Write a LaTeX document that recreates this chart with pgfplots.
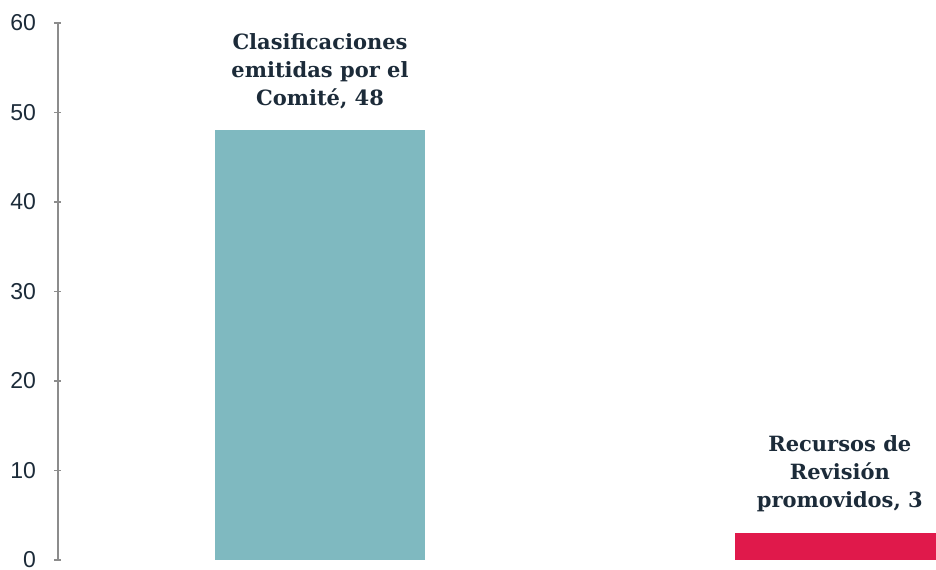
\documentclass[border=0pt]{standalone}
\usepackage{fontspec}
\setmainfont{Liberation Sans}
\newfontfamily\labfont{DejaVu Serif}
\usepackage{pgfplots}
\pgfplotsset{compat=1.18}
\definecolor{txt}{HTML}{1C2B39}
\definecolor{barA}{HTML}{7FB9C0}
\definecolor{barB}{HTML}{E0194B}
\definecolor{axgray}{HTML}{8C8C8C}
\begin{document}
\begin{tikzpicture}
\begin{axis}[name=ax,
  scale only axis, width=878pt, height=537pt,
  xmin=-0.504, xmax=1.185, ymin=0, ymax=60,
  axis y line=left, axis x line=none,
  y axis line style={axgray, line width=1.3pt, -},
  ytick={0,10,...,60},
  tick style={axgray, line width=1.3pt},
  major tick length=7pt,
  y tick label style={font=\fontsize{23}{27}\selectfont, text=txt, xshift=-15pt},
  /pgf/number format/assume math mode=true,
  ybar, bar width=210pt, bar shift=0pt,
  nodes near coords,
  point meta=explicit symbolic,
  every node near coord/.style={align=center, font=\labfont\bfseries\fontsize{21}{28}\selectfont, text=txt, anchor=south, yshift=18pt},
  clip=true,
]
\addplot[fill=barA, draw=none] coordinates {(0,48) [Clasificaciones\\emitidas por el\\Comité, 48]};
\addplot[fill=barB, draw=none] coordinates {(1,3) [Recursos de\\Revisión\\promovidos, 3]};
\end{axis}
\pgfresetboundingbox
\path[use as bounding box] ([xshift=-58pt,yshift=-10pt]ax.south west) rectangle ([yshift=23pt]ax.north east);
\end{tikzpicture}
\end{document}
